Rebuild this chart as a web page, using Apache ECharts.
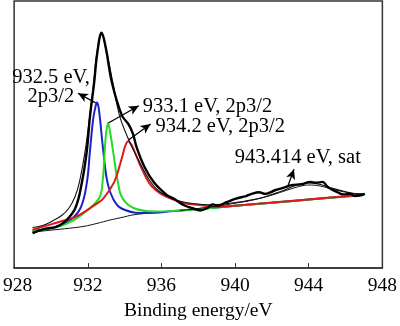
<!DOCTYPE html>
<html>
<head>
<meta charset="utf-8">
<script src="https://cdn.jsdelivr.net/npm/echarts@6/dist/echarts.min.js"></script>
<style>
  html, body { margin: 0; padding: 0; background: #fff; }
  #chart { width: 400px; height: 326px; }
</style>
</head>
<body>
<div id="chart"></div>
<script>
// Cu 2p3/2 XPS spectrum: measured curve, fitted components, Shirley background and envelope.
// Each array holds [binding energy (eV), intensity (a.u.)] pairs.

const xTicks = [928, 932, 936, 940, 944, 948];

const measured = [
  [929.0, 36.5], [929.72, 41], [930.3, 43], [930.79, 49], [931.32, 62.3], [931.68, 89],
  [931.95, 122.3], [932.12, 158], [932.34, 192], [932.53, 226], [932.75, 245], [932.98, 229],
  [933.32, 192.3], [933.85, 159], [934.2, 150], [934.45, 140], [934.65, 126], [935.06, 106],
  [935.6, 89], [936.3, 76], [936.7, 72], [937.2, 65.7], [937.7, 62.3], [938.1, 60],
  [938.45, 62], [938.8, 66.3], [939.05, 65], [939.5, 68.3], [940.05, 72.3], [940.6, 75],
  [940.9, 77.3], [941.3, 79], [941.65, 77.3], [942.2, 81.3], [942.7, 84], [943.05, 86.3],
  [943.6, 87.3], [944.1, 89.7], [944.4, 88.8], [944.75, 89.7], [945.0, 85], [945.2, 82.3],
  [945.55, 79], [945.9, 76.7], [946.25, 77.3], [946.5, 75], [947.05, 77.3]
];

const background = [
  [929.0, 37.5], [930.0, 39.5], [931.0, 41.5], [931.8, 43.5], [932.5, 46.5], [933.2, 50],
  [933.8, 52.5], [934.5, 55.5], [935.4, 57.3], [936.5, 59.1], [938.0, 61.5], [940.0, 64.8],
  [942.0, 68], [944.0, 71.3], [946.0, 74.5], [947.0, 76.2]
];

const peak9325 = [
  [929.0, 39], [930.0, 41.5], [930.97, 49], [931.6, 62.3], [931.95, 89], [932.12, 122.3],
  [932.3, 156], [932.42, 168], [932.5, 172.3], [932.58, 168], [932.66, 156], [932.84, 122.3],
  [933.07, 89], [933.37, 72.3], [933.81, 62.3], [934.88, 57.3], [935.6, 57.6], [936.5, 59.1],
  [938.0, 61.5], [940.0, 64.8], [942.0, 68], [944.0, 71.3], [946.0, 74.5], [947.0, 76.2]
];

const peak9331 = [
  [929.0, 38.5], [930.0, 41.5], [930.8, 45.7], [931.68, 55.7], [932.6, 72.3], [932.8, 89],
  [932.92, 122.3], [933.0, 141], [933.1, 150.7], [933.2, 143], [933.37, 122.3], [933.64, 89],
  [933.9, 72.3], [934.52, 62.3], [935.6, 59], [936.5, 59.3], [938.0, 61.5], [940.0, 64.8],
  [942.0, 68], [944.0, 71.3], [946.0, 74.5], [947.0, 76.2]
];

const peak9342 = [
  [929.0, 40], [930.0, 45.5], [930.6, 49], [931.3, 53], [931.86, 59], [932.4, 66],
  [932.84, 72.3], [933.42, 89], [933.72, 105.7], [933.9, 118], [934.05, 128], [934.2, 132],
  [934.35, 129], [934.52, 122.3], [934.7, 114], [934.88, 105.7], [935.32, 89], [935.7, 81],
  [936.12, 75.7], [936.7, 71], [937.3, 67.3], [938.1, 65.7], [939.0, 63.5], [940.0, 65],
  [942.0, 68.2], [944.0, 71.5], [946.0, 74.7], [947.0, 76.4]
];

const satellite = [
  [937.0, 60], [938.0, 62], [939.0, 64.5], [940.0, 67.5], [941.0, 71], [942.0, 76],
  [942.8, 81], [943.5, 85], [944.0, 86.5], [944.6, 85.5], [945.3, 82], [946.0, 79],
  [946.5, 77.5], [947.0, 76.8]
];

const envelope = [
  [929.0, 42.3], [929.5, 44], [930.08, 49], [930.6, 55], [930.97, 62.3], [931.3, 74],
  [931.54, 89], [931.86, 122.3], [932.09, 155.7], [932.3, 189], [932.5, 224], [932.75, 243],
  [933.0, 227], [933.37, 192.3], [933.72, 159], [934.1, 139], [934.5, 122], [934.9, 107],
  [935.3, 93], [935.8, 81], [936.4, 74], [937.0, 69.5], [937.8, 67], [938.6, 66],
  [939.5, 67], [940.5, 69.5], [941.5, 73.5], [942.5, 80], [943.3, 86], [943.9, 88.5],
  [944.5, 87.5], [945.2, 83.5], [945.9, 80], [946.5, 77.5], [947.0, 77]
];

// Callouts: label text, label anchor, and arrow tail -> head, all in data units.
const calloutText = ['932.5 eV,\n2p3/2', '933.1 eV, 2p3/2', '934.2 eV, 2p3/2', '943.414 eV, sat'];
const calloutAnchor = [[930.0, 188], [934.99, 168], [935.68, 147], [943.41, 115]];
const calloutAlign = ['center', 'left', 'left', 'center'];
const arrowFrom = [[932.43, 172], [933.12, 151], [934.19, 133], [942.88, 86]];
const arrowTo = [[931.47, 182], [934.77, 169], [935.41, 150], [943.2, 103]];

const SERIF = '"Liberation Serif", "Times New Roman", serif';

const chart = echarts.init(document.getElementById('chart'), null, { renderer: 'canvas' });

function lineSeries(name, data, color, width, z) {
  return {
    name, type: 'line', data, smooth: 0.4, showSymbol: false, symbol: 'none',
    lineStyle: { color, width }, z, silent: true, animation: false
  };
}

const arrowLines = arrowFrom.map((from, i) => [{ coord: from }, { coord: arrowTo[i] }]);

const series = [
  lineSeries('background', background, '#111', 1, 2),
  lineSeries('932.5 eV', peak9325, '#1c22c8', 2, 3),
  lineSeries('933.1 eV', peak9331, '#22dd22', 2, 4),
  lineSeries('934.2 eV', peak9342, '#dd1a1a', 2, 5),
  lineSeries('satellite', satellite, '#111', 1, 6),
  lineSeries('envelope', envelope, '#111', 1.1, 7),
  Object.assign(lineSeries('measured', measured, '#000', 2.4, 8), {
    markLine: {
      silent: true, animation: false,
      symbol: ['none', 'arrow'], symbolSize: [7, 10],
      lineStyle: { color: '#000', width: 1.3, type: 'solid' },
      label: { show: false },
      data: arrowLines
    }
  })
];

chart.setOption({
  animation: false,
  backgroundColor: '#fff',
  grid: {
    left: 11, right: 14, top: 1, bottom: 47,
    show: true, borderColor: '#333', borderWidth: 1.5, backgroundColor: 'transparent'
  },
  xAxis: {
    type: 'value', min: 928, max: 948, interval: 4,
    name: 'Binding energy/eV', nameLocation: 'middle', nameGap: 28,
    nameTextStyle: { fontFamily: SERIF, fontSize: 19.5, color: '#000' },
    axisLine: { show: true, lineStyle: { color: '#333', width: 1.5 } },
    axisTick: { show: true, inside: true, length: 5, lineStyle: { color: '#333', width: 1 } },
    axisLabel: {
      fontFamily: SERIF, fontSize: 19.5, color: '#000', margin: 8,
      formatter: v => (v === xTicks[0] ? '{lead|' + v + '}' : String(v)),
      rich: { lead: { fontFamily: SERIF, fontSize: 19.5, color: '#000', padding: [0, 0, 0, 7] } }
    },
    splitLine: { show: false }
  },
  yAxis: {
    type: 'value', min: 0, max: 278,
    axisLine: { show: false }, axisTick: { show: false },
    axisLabel: { show: false }, splitLine: { show: false }
  },
  series
});

// Callout labels, placed through the axes' own coordinate conversion.
const graphics = calloutText.map((text, i) => {
  const p = chart.convertToPixel({ gridIndex: 0 }, calloutAnchor[i]);
  return {
    type: 'text', x: p[0], y: p[1], silent: true, z: 100,
    style: {
      text, fill: '#000', fontFamily: SERIF, fontSize: 20.5, lineHeight: 19,
      align: calloutAlign[i], verticalAlign: 'middle'
    }
  };
});
chart.setOption({ graphic: graphics });
</script>
</body>
</html>
